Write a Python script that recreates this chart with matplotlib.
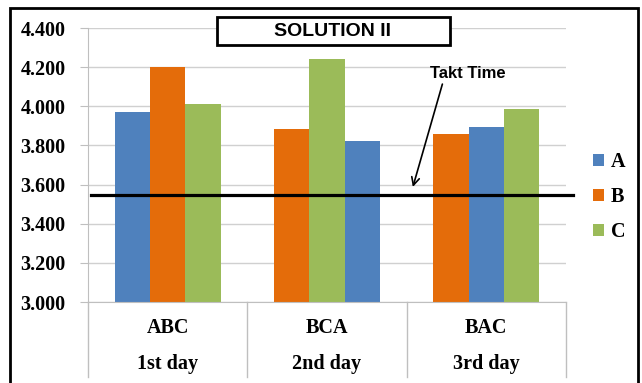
import matplotlib.pyplot as plt
from matplotlib.patches import Rectangle
from matplotlib.transforms import blended_transform_factory

# data
sequences = ["ABC", "BCA", "BAC"]
days = ["1st day", "2nd day", "3rd day"]
products = ["A", "B", "C"]
values_A = [3.970, 3.822, 3.894]
values_B = [4.200, 3.885, 3.860]
values_C = [4.010, 4.240, 3.984]
takt_time = 3.545
yticks = [3.0, 3.2, 3.4, 3.6, 3.8, 4.0, 4.2, 4.4]

colors = {"A": "#4F81BD", "B": "#E46C0A", "C": "#9BBB59"}
values = {"A": values_A, "B": values_B, "C": values_C}

plt.rcParams["font.family"] = "Liberation Serif"
plt.rcParams["font.weight"] = "bold"

fig = plt.figure(figsize=(6.42, 3.83), dpi=100)
ax = fig.add_axes([88 / 642, 1 - 302 / 383, 478 / 642, 274 / 383])

w = 0.222
handles = []
for p in products:
    xs, hs = [], []
    for i, seq in enumerate(sequences):
        slot = seq.index(p)
        xs.append(i + (slot - 1) * w)
        hs.append(values[p][i])
    b = ax.bar(xs, [h - 3.0 for h in hs], bottom=3.0, width=w,
               color=colors[p], label=p, zorder=2)
    handles.append(b)

ax.set_xlim(-0.5, 2.5)
ax.set_ylim(3.0, 4.4)
ax.set_yticks(yticks)
ax.set_yticklabels([f"{t:.3f}" for t in yticks], family="Liberation Serif",
                   fontweight="bold", fontsize=14.5)
ax.tick_params(axis="y", length=6, color="#BFBFBF", pad=10)
ax.set_xticks([])
ax.grid(axis="y", color="#D0D0D0", lw=1, zorder=0)
for s in ["top", "right"]:
    ax.spines[s].set_visible(False)
for s in ["left", "bottom"]:
    ax.spines[s].set_color("#BFBFBF")

# category separators and two-row labels
tr = blended_transform_factory(ax.transData, ax.transAxes)
for x in [-0.5, 0.5, 1.5, 2.5]:
    ax.plot([x, x], [0, -0.274], transform=tr, color="#BFBFBF", lw=1, clip_on=False)
for i in range(len(sequences)):
    ax.text(i, -0.095, sequences[i], transform=tr, ha="center", va="center", fontsize=14.5)
    ax.text(i, -0.226, days[i], transform=tr, ha="center", va="center", fontsize=14.5)

# takt time line
ax.plot([0.006, 1.015], [takt_time, takt_time], transform=ax.get_yaxis_transform(),
        color="black", lw=2.3, clip_on=False, zorder=3)
ax.text(1.885, 4.168, "Takt Time", ha="center", va="center", fontsize=12,
        family="Liberation Sans", fontweight="bold")
ax.annotate("", xy=(1.534, 3.574), xytext=(1.729, 4.127),
            arrowprops=dict(arrowstyle="->", color="black", lw=1.2, mutation_scale=14))

ax.legend(handles=handles, loc="center left", bbox_to_anchor=(593 / 642, 1 - 197 / 383),
          bbox_transform=fig.transFigure, frameon=False, fontsize=14.5, borderpad=0,
          borderaxespad=0, handlelength=0.57, handleheight=0.57, handletextpad=0.3,
          labelspacing=0.75)

# title box
fig.patches.append(Rectangle((217 / 642, 1 - 45 / 383), 233 / 642, 28 / 383,
                             transform=fig.transFigure, facecolor="white",
                             edgecolor="black", lw=2, zorder=5))
fig.text(333 / 642, 1 - 31 / 383, "SOLUTION II", ha="center", va="center",
         fontsize=14, family="Liberation Sans", fontweight="bold", zorder=6)

# outer frame
fig.patches.append(Rectangle((10 / 642, -0.05), 628 / 642, 1.05 - 8 / 383,
                             transform=fig.transFigure, fill=False,
                             edgecolor="black", lw=2, zorder=5))

plt.savefig("out.png", dpi=100)
